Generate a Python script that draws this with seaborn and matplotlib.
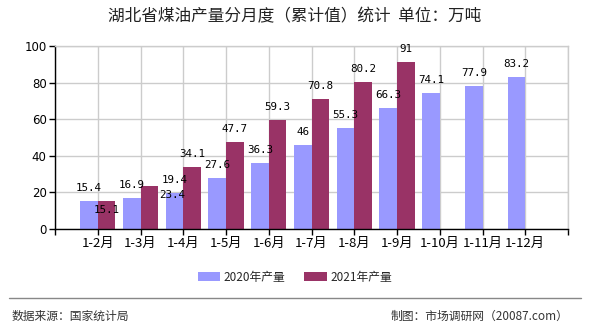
import numpy as np
import pandas as pd
import matplotlib
matplotlib.use("Agg")
import matplotlib.pyplot as plt
from matplotlib.lines import Line2D
import seaborn as sns

months = ["1-2月", "1-3月", "1-4月", "1-5月", "1-6月", "1-7月", "1-8月", "1-9月", "1-10月", "1-11月", "1-12月"]
series_names = ["2020年产量", "2021年产量"]
values_2020 = [15.4, 16.9, 19.4, 27.6, 36.3, 46, 55.3, 66.3, 74.1, 77.9, 83.2]
values_2021 = [15.1, 23.4, 34.1, 47.7, 59.3, 70.8, 80.2, 91, np.nan, np.nan, np.nan]
label_2020 = ["15.4", "16.9", "19.4", "27.6", "36.3", "46", "55.3", "66.3", "74.1", "77.9", "83.2"]
label_2021 = ["15.1", "23.4", "34.1", "47.7", "59.3", "70.8", "80.2", "91", "", "", ""]
y_ticks = [0, 20, 40, 60, 80, 100]

title = "湖北省煤油产量分月度（累计值）统计  单位：万吨"
source_text = "数据来源：国家统计局"
credit_text = "制图：市场调研网（20087.com）"

colors = ["#9999FF", "#993366"]

df = pd.DataFrame({
    "month": months * 2,
    "value": values_2020 + values_2021,
    "series": [series_names[0]] * len(months) + [series_names[1]] * len(months),
})

sns.set_theme(style="white")
plt.rcParams["font.family"] = ["Noto Sans CJK SC", "DejaVu Sans"]

fig = plt.figure(figsize=(5.9, 3.3), dpi=100)
ax = fig.add_axes([55 / 590, 1 - 229 / 330, (568 - 55) / 590, (229 - 46) / 330])

sns.barplot(data=df, x="month", y="value", hue="series", order=months,
            hue_order=series_names, palette=colors, width=0.82, gap=0,
            saturation=1, ax=ax, legend=True, errorbar=None, linewidth=0,
            edgecolor="none")

ax.set_xlim(-1, len(months))
ax.set_ylim(0, 100)
ax.set_yticks(y_ticks)
ax.set_yticklabels([str(t) for t in y_ticks], fontsize=8.5, family=["DejaVu Sans"])
ax.set_xticks(range(-1, len(months) + 1))
ax.set_xticklabels([""] + months + [""], fontsize=9.5)
ax.set_xlabel("")
ax.set_ylabel("")
ax.tick_params(axis="both", which="both", direction="out", length=4, width=1,
               color="black", pad=2, bottom=True, left=True, labelcolor="black")
ax.grid(True, color="#cccccc", linewidth=1)
ax.set_axisbelow(True)
for s in ["left", "bottom"]:
    ax.spines[s].set_color("black")
    ax.spines[s].set_linewidth(1)
for s in ["top", "right"]:
    ax.spines[s].set_color("#cccccc")
    ax.spines[s].set_linewidth(1)

# value labels
special = {(1, 0): (0, -9), (1, 1): (23, -9)}  # (series, index): pixel offsets
for si, (cont, labels) in enumerate(zip(ax.containers, [label_2020, label_2021])):
    for i, (bar, lab) in enumerate(zip(cont, labels)):
        h = bar.get_height()
        if not lab or not np.isfinite(h):
            continue
        dx, dy = special.get((si, i), (0, 13))
        ax.annotate(lab, (bar.get_x() + bar.get_width() / 2, h),
                    xytext=(dx * 0.72, dy * 0.72), textcoords="offset points",
                    ha="center", va="center", fontsize=7.8,
                    family=["DejaVu Sans Mono"], color="black")

# legend
handles, labels = ax.get_legend_handles_labels()
ax.legend_.remove()
fig.legend(handles, labels, loc="center", bbox_to_anchor=(0.5, 1 - 277 / 330),
           ncol=2, frameon=False, fontsize=8.5, handlelength=1.9, handleheight=0.8,
           handletextpad=0.3, columnspacing=1.6)

fig.text(0.5, 1 - 17 / 330, title, ha="center", va="center", fontsize=12, color="#222222")
fig.add_artist(Line2D([9 / 590, 581 / 590], [1 - 298 / 330] * 2, color="#888888", linewidth=1))
fig.text(12 / 590, 1 - 316 / 330, source_text, ha="left", va="center", fontsize=8.5, color="#333333")
fig.text(568 / 590, 1 - 316 / 330, credit_text, ha="right", va="center", fontsize=8.5, color="#333333")

fig.savefig("out.png", dpi=100)
